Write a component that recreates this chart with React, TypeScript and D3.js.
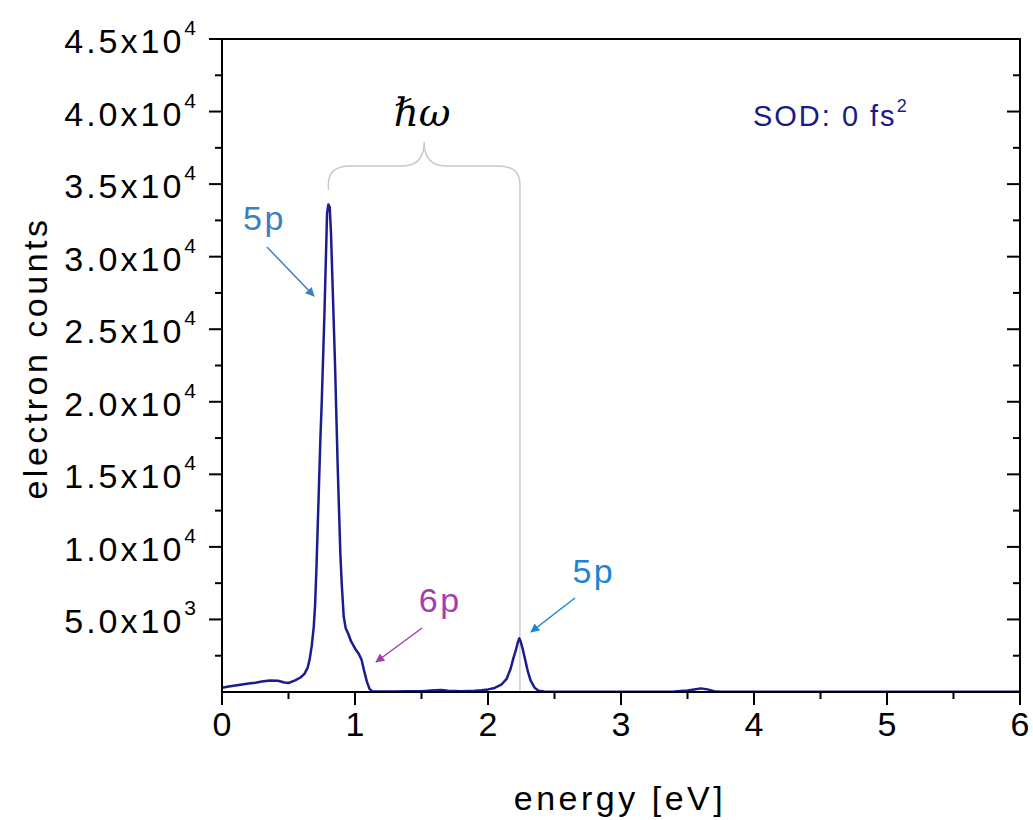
import * as d3 from 'd3';

const width = 1033;
const height = 820;
const margin = { top: 39, left: 222, bottom: 128, right: 13 };

// spectrum
const energy = [
  0, 0.05, 0.1, 0.15, 0.2, 0.25, 0.3, 0.36, 0.42, 0.47, 0.5, 0.55, 0.59, 0.62, 0.645, 0.66,
  0.675, 0.69, 0.7, 0.71, 0.72, 0.73, 0.74, 0.75, 0.76, 0.77, 0.78, 0.79, 0.8, 0.81, 0.82,
  0.83, 0.84, 0.85, 0.86, 0.87, 0.88, 0.89, 0.9, 0.915, 0.93, 0.95, 0.97, 1.0, 1.03, 1.05,
  1.07, 1.09, 1.11, 1.13, 1.2, 1.3, 1.4, 1.5, 1.6, 1.65, 1.7, 1.8, 1.9, 1.95, 2.0, 2.05, 2.1,
  2.14, 2.17, 2.19, 2.21, 2.225, 2.235, 2.245, 2.26, 2.28, 2.3, 2.32, 2.35, 2.38, 2.42, 2.5,
  2.7, 3.0, 3.3, 3.4, 3.5, 3.55, 3.6, 3.65, 3.7, 3.75, 4.0, 4.5, 5.0, 5.5, 6.0,
];
const counts = [
  300, 380, 450, 520, 580, 640, 720, 800, 780, 650, 620, 800, 1000, 1250, 1700, 2300,
  3200, 4500, 6000, 8500, 11500, 14500, 17500, 20000, 23000, 26000, 29500, 33000, 33600, 33400, 31500,
  28500, 25500, 22500, 19000, 15500, 12500, 9500, 7500, 5200, 4400, 4000, 3500, 3000, 2600, 2200,
  1400, 700, 200, 50, 40, 30, 60, 50, 120, 140, 90, 60, 80, 120, 180, 280, 500,
  900, 1600, 2300, 2900, 3450, 3700, 3500, 3000, 2200, 1400, 800, 300, 80, 30, 20,
  20, 20, 20, 40, 100, 170, 250, 180, 60, 20, 20, 20, 20, 20, 20,
];

const xTicks = [0, 1, 2, 3, 4, 5, 6];
const yTicks = [5000, 10000, 15000, 20000, 25000, 30000, 35000, 40000, 45000];

// annotation positions in data units
const peakEnergies = [0.8, 2.24];
const labels = [
  { text: '5p', e: 0.158, c: 31840, color: '#3b80c2' },
  { text: '6p', e: 1.48, c: 5513, color: '#a53db0' },
  { text: '5p', e: 2.635, c: 7511, color: '#1c86d4' },
];
const arrows = [
  { from: [0.338, 30665], to: [0.692, 27290], color: '#3b80c2' },
  { from: [1.504, 4410], to: [1.158, 2067], color: '#a53db0' },
  { from: [2.654, 6478], to: [2.323, 4135], color: '#1c86d4' },
];

const font = '"Liberation Sans", Arial, sans-serif';

function App() {
  const x = d3.scaleLinear().domain([0, 6]).range([margin.left, width - margin.right]);
  const y = d3.scaleLinear().domain([0, 45000]).range([height - margin.bottom, margin.top]);
  const x0 = x(0);
  const x1 = x(6);
  const y0 = y(0);
  const y1 = y(45000);

  const line = d3
    .line<number>()
    .x((_, i) => x(energy[i]))
    .y((d) => y(d));

  const xMinor = d3.range(0.5, 6, 1);
  const yMinor = d3.range(2500, 45000, 5000);

  const fmt = (v: number) => {
    const exp = Math.floor(Math.log10(v));
    return { mant: (v / 10 ** exp).toFixed(1), exp };
  };

  // brace over the two peaks
  const bL = x(peakEnergies[0]);
  const bR = x(peakEnergies[1]);
  const bM = (bL + bR) / 2;
  const bTop = 166;
  const brace = `M${bL},190 L${bL},184 Q${bL},${bTop} ${bL + 22},${bTop} L${bM - 22},${bTop} Q${bM},${bTop} ${bM},142 Q${bM},${bTop} ${bM + 22},${bTop} L${bR - 22},${bTop} Q${bR},${bTop} ${bR},184 L${bR},${y0}`;

  return (
    <svg
      width={width}
      height={height}
      style={{ position: 'absolute', left: 0, top: 0, background: '#fff' }}
      fontFamily={font}
    >
      <defs>
        {arrows.map((a, i) => (
          <marker
            key={i}
            id={`ah${i}`}
            viewBox="0 0 10 10"
            refX={9}
            refY={5}
            markerWidth={12}
            markerHeight={9}
            markerUnits="userSpaceOnUse"
            orient="auto"
          >
            <path d="M0,0 L10,5 L0,10 Z" fill={a.color} />
          </marker>
        ))}
      </defs>

      <path d={brace} fill="none" stroke="#c8c8c8" strokeWidth={1.4} />

      <path d={line(counts) || ''} fill="none" stroke="#1c1c8e" strokeWidth={2.5} strokeLinejoin="round" />

      {/* frame */}
      <rect x={x0} y={y1} width={x1 - x0} height={y0 - y1} fill="none" stroke="#000" strokeWidth={2} />

      {/* x axis ticks */}
      {xTicks.map((t) => (
        <g key={t}>
          <line x1={x(t)} x2={x(t)} y1={y0} y2={y0 + 13} stroke="#000" strokeWidth={2} />
          <text x={x(t)} y={736} textAnchor="middle" fontSize={34}>
            {t}
          </text>
        </g>
      ))}
      {xMinor.map((t) => (
        <line key={t} x1={x(t)} x2={x(t)} y1={y0} y2={y0 + 7} stroke="#000" strokeWidth={2} />
      ))}

      {/* y axis ticks */}
      {yTicks.map((t) => {
        const f = fmt(t);
        return (
          <g key={t}>
            <line x1={x0 - 13} x2={x0} y1={y(t)} y2={y(t)} stroke="#000" strokeWidth={2} />
            <line x1={x1 - 13} x2={x1} y1={y(t)} y2={y(t)} stroke="#000" strokeWidth={2} />
            <text x={199} y={y(t) + 14} textAnchor="end" fontSize={34} letterSpacing={3}>
              {f.mant}x10
              <tspan dy={-18} fontSize={21}>
                {f.exp}
              </tspan>
            </text>
          </g>
        );
      })}
      {yMinor.map((t) => (
        <g key={t}>
          <line x1={x0 - 7} x2={x0} y1={y(t)} y2={y(t)} stroke="#000" strokeWidth={2} />
          <line x1={x1 - 7} x2={x1} y1={y(t)} y2={y(t)} stroke="#000" strokeWidth={2} />
        </g>
      ))}

      {/* axis titles */}
      <text x={620} y={810} textAnchor="middle" fontSize={34} letterSpacing={3.5}>
        energy [eV]
      </text>
      <text
        transform={`translate(47,358) rotate(-90)`}
        textAnchor="middle"
        fontSize={34}
        letterSpacing={3.5}
      >
        electron counts
      </text>

      {/* annotations */}
      <text
        x={bM - 2}
        y={126}
        textAnchor="middle"
        fontSize={39}
        fontStyle="italic"
        fontFamily='"DejaVu Serif", "Liberation Serif", serif'
      >
        ℏω
      </text>
      <text x={x(3.992)} y={y(39000)} fontSize={29} letterSpacing={2} fill="#1a1a8a">
        SOD: 0 fs
        <tspan dy={-14} fontSize={18}>
          2
        </tspan>
      </text>
      {labels.map((l, i) => (
        <text key={i} x={x(l.e)} y={y(l.c)} fontSize={34} letterSpacing={2.5} fill={l.color}>
          {l.text}
        </text>
      ))}
      {arrows.map((a, i) => (
        <line
          key={i}
          x1={x(a.from[0])}
          y1={y(a.from[1])}
          x2={x(a.to[0])}
          y2={y(a.to[1])}
          stroke={a.color}
          strokeWidth={1.5}
          markerEnd={`url(#ah${i})`}
        />
      ))}
    </svg>
  );
}

export default App;
